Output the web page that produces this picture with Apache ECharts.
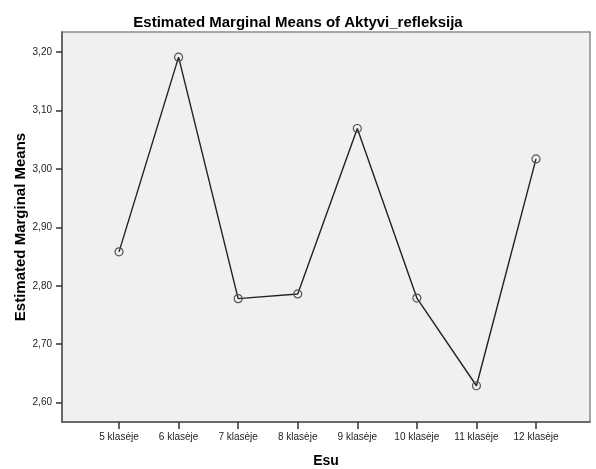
<!DOCTYPE html>
<html>
<head>
<meta charset="utf-8">
<script src="https://cdn.jsdelivr.net/npm/echarts@6/dist/echarts.min.js"></script>
<style>
  html, body { margin: 0; padding: 0; background: #fff; }
  #chart { width: 596px; height: 469px; }
</style>
</head>
<body>
<div id="chart"></div>
<script>
var categories = ['5 klasėje', '6 klasėje', '7 klasėje', '8 klasėje', '9 klasėje', '10 klasėje', '11 klasėje', '12 klasėje'];
var means = [2.858, 3.191, 2.778, 2.786, 3.069, 2.779, 2.629, 3.017];
var yTicks = [2.6, 2.7, 2.8, 2.9, 3.0, 3.1, 3.2];

var chart = echarts.init(document.getElementById('chart'));
var font = 'Liberation Sans, Arial, sans-serif';

// index -> value pairs, x axis is a value axis so the category spacing matches SPSS
var points = [];
for (var i = 0; i < means.length; i++) {
  points.push([i, means[i]]);
}
var xTicks = [];
for (var j = 0; j < categories.length; j++) {
  xTicks.push(j);
}

var option = {
  animation: false,
  backgroundColor: '#fff',
  title: {
    text: 'Estimated Marginal Means of Aktyvi_refleksija',
    left: 'center',
    top: 10,
    textStyle: { fontFamily: font, fontSize: 15, fontWeight: 'bold', color: '#000' }
  },
  grid: {
    left: 62, right: 6, top: 32, bottom: 47,
    outerBoundsMode: 'none',
    containLabel: false,
    show: true,
    backgroundColor: '#f0f0f0',
    borderColor: '#8a8a8a',
    borderWidth: 1.5
  },
  xAxis: {
    type: 'value',
    min: -0.957,
    max: 7.906,
    name: 'Esu',
    nameLocation: 'middle',
    nameGap: 32,
    nameMoveOverlap: false,
    nameTextStyle: { fontFamily: font, fontSize: 14, fontWeight: 'bold', color: '#000' },
    splitLine: { show: false },
    axisLine: { show: true, onZero: false, lineStyle: { color: '#555', width: 1.5 } },
    axisTick: { show: true, inside: false, length: 7, customValues: xTicks, lineStyle: { color: '#333', width: 1.5 } },
    axisLabel: {
      customValues: xTicks,
      margin: 10,
      fontFamily: font, fontSize: 10, color: '#222',
      formatter: function (v) { return categories[Math.round(v)]; }
    }
  },
  yAxis: {
    type: 'value',
    min: 2.567,
    max: 3.234,
    name: 'Estimated Marginal Means',
    nameLocation: 'middle',
    nameGap: 34,
    nameMoveOverlap: false,
    nameTextStyle: { fontFamily: font, fontSize: 15, fontWeight: 'bold', color: '#000' },
    splitLine: { show: false },
    axisLine: { show: true, onZero: false, lineStyle: { color: '#555', width: 1.5 } },
    axisTick: { show: true, inside: false, length: 6, customValues: yTicks, lineStyle: { color: '#333', width: 1.5 } },
    axisLabel: {
      customValues: yTicks,
      margin: 10,
      fontFamily: font, fontSize: 10, color: '#222',
      formatter: function (v) { return v.toFixed(2).replace('.', ','); }
    }
  },
  series: [{
    type: 'line',
    data: points,
    symbol: 'circle',
    symbolSize: 8,
    showAllSymbol: true,
    lineStyle: { color: '#222', width: 1.4 },
    itemStyle: { color: 'rgba(0,0,0,0)', borderColor: '#555', borderWidth: 1.2 },
    emphasis: { disabled: true }
  }]
};
chart.setOption(option);
</script>
</body>
</html>
